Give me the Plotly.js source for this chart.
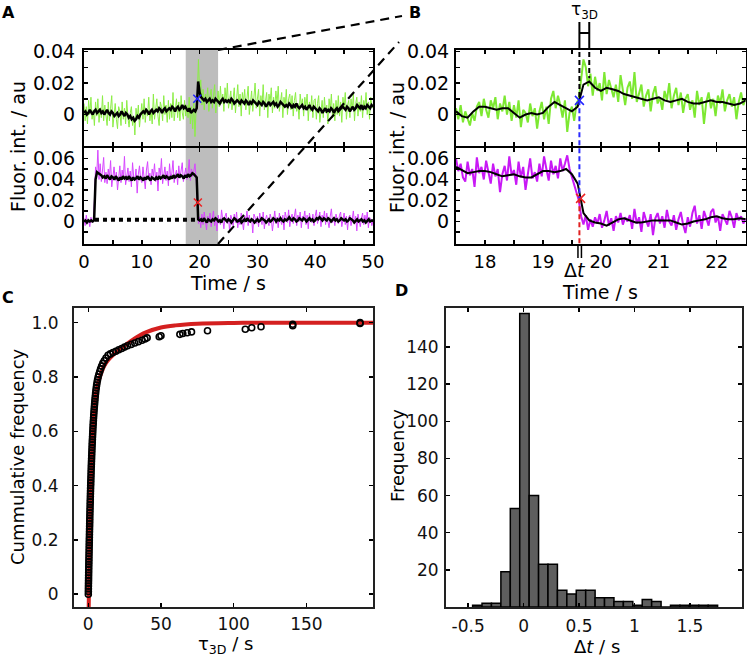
<!DOCTYPE html>
<html><head><meta charset="utf-8">
<script src="https://cdn.plot.ly/plotly-3.0.1.min.js"></script>
<style>html,body{margin:0;padding:0;background:#fff;}#plot{width:747px;height:657px;}</style>
</head><body><div id="plot"></div>
<script>
// ===== DATA (fluorescence values in units of 1e-3 au) =====
// Panel A: full trace 0-50 s
const aStart = 0, aRawStep = 0.2, aSmoothStep = 0.25;
const aGreenRaw = [
7,-4,5,-6,9,0,11,-3,3,-7, 8,-1,10,-5,4,-2,12,-4,6,1, -7,8,-4,4,12,-8,1,7,-3,-9,
5,2,-7,8,-3,4,-6,9,-2,-8, 1,5,-7,-1,-13,4,-3,6,-8,2, 7,-3,10,-5,4,-1,11,-4,3,-6,
13,-3,6,10,-1,-7,8,5,-4,12, 0,6,-5,9,-3,7,-2,14,-4,5, 10,-2,8,-4,12,1,-3,9,-1,6,
-2,11,-6,5,-9,8,-14,4,12,35, 14,22,6,16,3,13,9,17,2,12, 16,4,12,19,1,10,15,5,18,7,
13,2,17,8,20,4,11,15,3,12, 17,1,10,19,5,13,-1,14,8,16, 3,12,18,0,9,15,2,11,20,4,
10,16,-1,12,6,19,3,9,14,-2, 13,8,17,1,11,4,15,7,18,2, 9,14,-2,11,5,16,0,10,13,3,
12,-1,9,14,2,7,-3,13,6,10, -1,11,5,13,-4,8,2,12,-2,9, 10,-3,7,12,-5,4,9,-2,11,1,
6,-6,10,3,13,-2,7,-4,9,0, 12,-1,8,-5,11,4,14,-3,6,9, -2,10,3,13,-4,7,11,-1,8,2,
12,-2,9,5,14,0,8,-3,11,6, 4];
const aGreenSmooth = [
1,2,0,1,3,1,0,2,3,1, 2,3,1,2,0,2,3,1,0,2, 1,-1,0,1,-1,0,2,0,-1,1, 0,-2,-1,-3,-2,-4,-3,-1,-2,0,
1,2,1,3,2,0,2,3,1,2, 3,2,4,3,1,3,4,2,3,4, 3,5,4,2,4,5,3,4,6,4, 5,3,2,4,1,2,3,2,4,21,
14,11,10,9,10,8,9,10,8,9, 8,10,9,8,7,9,10,8,9,8, 9,8,10,9,7,8,9,8,7,9, 8,7,9,8,6,8,7,9,8,7,
6,8,7,6,8,7,5,7,8,6, 7,8,6,7,5,6,8,7,6,5, 6,5,7,6,4,6,5,7,5,4, 5,6,4,5,3,5,6,4,3,5,
4,3,2,4,3,1,3,4,2,3, 2,4,3,1,3,4,2,3,4,5, 4,3,5,4,2,4,5,3,4,6, 5,4,6,3,5,4,6,5,4,6, 5];
const aMagentaRaw = [
3,-4,6,-2,1,-5,4,-1,2,20, 52,44,68,40,55,38,49,61,37,47, 36,50,42,58,33,45,52,39,47,30,
44,53,37,49,41,62,35,46,51,38, 48,33,56,42,39,50,27,45,53,40, 37,52,44,31,49,57,40,46,35,50,
43,55,38,47,29,51,44,60,36,45, 52,39,48,34,55,42,46,58,37,44, 49,35,53,41,47,56,38,45,51,40,
46,59,39,50,43,48,55,41,18,-2, 4,-6,7,-3,9,1,-8,5,-1,8, -5,3,10,-4,2,-9,6,0,-3,11,
1,-7,5,8,-2,4,-10,6,2,-4, 7,-1,9,-6,3,-3,8,1,-8,5, 2,10,-4,6,-1,3,-11,7,4,-2,
5,-5,8,1,-3,9,-7,2,6,0, -4,7,3,-9,5,10,-2,4,-6,8, 1,-3,6,-8,9,2,-1,11,-5,3,
7,-2,4,12,-4,6,0,9,-6,5, 3,10,-3,6,-7,8,2,-1,7,-4, 5,11,-2,4,9,-5,6,1,10,-3,
8,0,-6,5,12,-1,4,-4,7,2, -2,6,9,-5,3,8,-3,5,-8,4, 6,-4,2,10,-2,5,-9,7,1,-5,
3,8,-3,6,-1,9,-6,4,2,-4, 1];
const aMagentaSmooth = [
0,1,-1,1,0,1,0,1,40,47, 46,45,44,42,43,41,44,42,40,43, 42,40,43,41,39,42,40,43,41,42, 40,43,41,39,42,40,41,43,40,42,
41,39,42,40,43,41,39,42,41,40, 42,40,43,41,42,44,41,43,42,40, 43,41,44,42,43,45,42,44,43,41, 44,42,45,43,44,46,45,43,42,2,
1,2,0,3,1,-1,2,1,0,2, 1,3,2,0,1,-1,2,3,1,0, 2,1,-1,1,3,2,0,1,2,-1, 1,2,0,3,1,0,2,1,-1,1,
2,0,1,3,2,1,-1,1,2,0, 1,3,2,0,2,1,3,1,0,2, 1,2,4,2,1,3,2,0,1,3, 2,1,3,2,0,2,3,1,2,0,
1,3,2,4,2,1,3,2,1,3, 2,0,2,3,1,2,0,1,3,2, 1,2,0,1,3,2,1,-1,1,2, 0,1,2,0,1,-1,1,2,0,1, 1];
const aBaselineT = [1.9, 19.3];
const aBaselineY = [1.5, 1.5];
const aGreenEventT = [19.6], aGreenEventY = [10];
const aMagentaEventT = [19.7], aMagentaEventY = [18];
const aZoomWindow = [17.6, 23.2];

// Panel B: zoom 17.5-22.5 s
const bStart = 17.5, bRawStep = 0.04, bSmoothStep = 0.1;
const bGreenRaw = [
4,-3,6,-5,2,-2,-7,1,-4,5,8,-1,10,3,-2,9,4,11,-3,7,2,12,0,8,-4,
6,-2,9,-8,3,1,-5,7,-1,4,-9,2,8,-3,5,-6,10,15,4,12,6,-2,9,-11,1,
5,-4,7,10,22,35,30,18,26,12,24,15,20,9,27,13,22,17,11,19,8,25,14,6,17,
21,10,27,8,14,19,5,12,16,2,13,18,7,11,3,15,9,20,4,12,17,6,14,1,10,
13,3,9,-2,15,6,11,-6,8,14,4,10,-1,12,7,16,2,9,13,5,11,-3,8,14,6,
10];
const bGreenSmooth = [
2,-1,-2,2,5,5,4,3,4,4, 1,-2,0,1,0,1,5,8,6,4, 2,5,19,21,17,15,17,16,15,13,
12,11,10,9,10,11,9,8,9,10, 8,7,7,8,9,8,8,7,6,7, 9];
const bMagentaRaw = [
60,48,55,42,38,57,44,50,33,61,46,52,40,58,47,36,55,43,50,28,45,53,39,62,44,
49,35,57,42,52,30,46,60,41,47,38,55,43,62,50,39,58,45,53,41,60,48,55,63,50,
42,35,27,20,5,-3,6,-8,2,-5,4,-2,7,-6,1,10,-4,3,-9,5,-1,8,-3,4,0,
6,-7,12,-2,4,-10,9,1,-5,7,-13,3,8,-2,5,-6,11,0,-4,6,-8,2,9,-3,-11,
4,-5,8,15,-2,6,-7,10,3,-4,9,12,-1,5,-9,7,2,-3,10,4,-6,8,1,5,-2,
3];
const bMagentaSmooth = [
52,49,46,47,48,48,47,45,43,44, 45,43,42,42,45,48,48,47,48,50, 45,36,8,1,-1,-2,-4,-1,2,3,
1,-1,-1,0,1,1,1,1,-1,-3, -2,0,1,2,4,5,3,2,2,3, 2];
const bGreenEventT = [19.63], bGreenEventY = [9];
const bMagentaEventT = [19.65], bMagentaEventY = [22];
const tau3DStart = 19.63, tau3DEnd = 19.8, tau3DPeak = 23;
const dtMarks = [19.605, 19.665];

// Panel C: cumulative distribution of tau_3D (s)
const cTau = [
0.05,0.08,0.1,0.13,0.16,0.2,0.23,0.26,0.3,0.33,
0.36,0.4,0.43,0.47,0.5,0.54,0.58,0.62,0.66,0.7,
0.74,0.78,0.82,0.86,0.9,0.94,0.98,1.02,1.06,1.1,
1.15,1.2,1.25,1.3,1.35,1.4,1.45,1.5,1.55,1.6,
1.66,1.72,1.78,1.84,1.9,1.96,2.02,2.09,2.16,2.23,
2.3,2.37,2.44,2.52,2.6,2.68,2.76,2.85,2.94,3.03,
3.12,3.22,3.32,3.43,3.54,3.66,3.78,3.91,4.05,4.2,
4.35,4.5,4.67,4.85,5.05,5.25,5.5,5.75,6.05,6.4,
6.8,7.3,7.9,8.5,9.2,10,11,12.2,13.6,15.2,17,19,21,23,25,27,29.5,32,34.5,37,39,40.5,
48.8,50,63,65,68,71,82,108,112.4,118.8,140.6,140.6,186.9,186.9];
const cFreq = [
0,0.01,0.02,0.03,0.04,0.05,0.06,0.07,0.08,0.09,
0.10,0.11,0.12,0.13,0.14,0.15,0.16,0.17,0.18,0.19,
0.20,0.21,0.22,0.23,0.24,0.25,0.26,0.27,0.28,0.29,
0.30,0.31,0.32,0.33,0.34,0.35,0.36,0.37,0.38,0.39,
0.40,0.41,0.42,0.43,0.44,0.45,0.46,0.47,0.48,0.49,
0.50,0.51,0.52,0.53,0.54,0.55,0.56,0.57,0.58,0.59,
0.60,0.61,0.62,0.63,0.64,0.65,0.66,0.67,0.68,0.69,
0.70,0.71,0.72,0.73,0.74,0.75,0.76,0.77,0.78,0.79,
0.80,0.81,0.82,0.83,0.84,0.85,0.86,0.87,0.88,0.885,0.89,0.895,0.90,0.905,0.91,0.915,0.92,0.925,0.93,0.935,0.94,0.944,
0.948,0.952,0.957,0.960,0.963,0.966,0.970,0.976,0.981,0.985,0.989,0.994,0.997,1.0];
const cFitTau = [0.3,0.6,1,1.5,2,3,4,5,6,8,10,12,15,20,25,30,35,40,50,60,75,100,130,196];
const cFitFreq = [-0.05,0.05,0.2,0.33,0.43,0.57,0.66,0.72,0.76,0.8,0.83,0.85,0.87,0.895,0.915,0.935,0.952,0.965,0.982,0.99,0.996,0.999,1.0,1.0];

// Panel D: histogram of delta t (s)
const dBinStart = -0.4175, dBinWidth = 0.085;
const dCounts = [1,2,2,19,53,158,60,23,23,9,7,9,9,5,5,3,3,1,4,3,0,1,1,1,1,1];

// Tick definitions
const aTimeTicks = [0,5,10,15,20,25,30,35,40,45,50];
const aTimeLabels = ['0','','10','','20','','30','','40','','50'];
const bTimeTicks = [18,18.5,19,19.5,20,20.5,21,21.5,22];
const bTimeLabels = ['18','','19','','20','','21','','22'];
const greenTicks = [-10,0,10,20,30,40];
const greenLabels = ['','0','','0.02','','0.04'];
const magTicks = [-10,0,10,20,30,40,50,60];
const magLabels = ['','0','','0.02','','0.04','','0.06'];
const cTauTicks = [0,50,100,150];
const cFreqTicks = [0,0.2,0.4,0.6,0.8,1.0];
const cFreqLabels = ['0','0.2','0.4','0.6','0.8','1.0'];
const dDtTicks = [-0.5,0,0.5,1,1.5];
const dDtLabels = ['-0.5','0','0.5','1','1.5'];
const dFreqTicks = [20,40,60,80,100,120,140];

// ===== LAYOUT =====
const W = 747, H = 657;
const px = v => v / W, py = v => 1 - v / H;
const domAx = [px(84), px(373)], domBx = [px(456), px(745.7)];
const domTop = [py(146), py(50)], domBot = [py(244), py(148)];
const domCx = [px(74), px(373)], domDx = [px(446), px(742)], domCD = [py(607), py(308)];
const greenRange = [-20, 41], magRange = [-21.5, 70];
const yPaper = (dom, rng, v) => dom[0] + (v - rng[0]) / (rng[1] - rng[0]) * (dom[1] - dom[0]);

const FONT = 'DejaVu Sans';
const GREEN_A = 'rgb(140,238,70)', GREEN_B = 'rgb(125,232,50)';
const MAG_A = 'rgb(215,70,255)', MAG_B = 'rgb(200,25,245)';
const TICK_AB = 18, TICK_CD = 17;

function axis(o) {
  return Object.assign({
    showline: true, mirror: 'ticks', linecolor: '#000', linewidth: 2,
    ticks: 'inside', ticklen: 4, tickwidth: 1.5, tickcolor: '#000',
    showgrid: false, zeroline: false, fixedrange: true,
    tickfont: {family: FONT, size: TICK_AB, color: '#000'}
  }, o);
}
const yTickAB = {family: FONT, size: 19, color: '#000'};
const cdFont = {family: FONT, size: TICK_CD, color: '#111'};

const traces = [
  // A top
  {x0: aStart, dx: aRawStep, y: aGreenRaw, xaxis: 'x2', yaxis: 'y2', type: 'scatter', mode: 'lines', line: {color: GREEN_A, width: 1}},
  {x0: aStart, dx: aSmoothStep, y: aGreenSmooth, xaxis: 'x2', yaxis: 'y2', type: 'scatter', mode: 'lines', line: {color: '#000', width: 2.5}},
  {x: aGreenEventT, y: aGreenEventY, xaxis: 'x2', yaxis: 'y2', type: 'scatter', mode: 'markers', marker: {symbol: 'x-thin-open', size: 8, color: '#2222ff', line: {width: 1.5, color: '#2222ff'}}},
  // A bottom
  {x0: aStart, dx: aRawStep, y: aMagentaRaw, xaxis: 'x', yaxis: 'y', type: 'scatter', mode: 'lines', line: {color: MAG_A, width: 1}},
  {x0: aStart, dx: aSmoothStep, y: aMagentaSmooth, xaxis: 'x', yaxis: 'y', type: 'scatter', mode: 'lines', line: {color: '#000', width: 2.5}},
  {x: aBaselineT, y: aBaselineY, xaxis: 'x', yaxis: 'y', type: 'scatter', mode: 'lines', line: {color: '#000', width: 4, dash: 'dot'}},
  {x: aMagentaEventT, y: aMagentaEventY, xaxis: 'x', yaxis: 'y', type: 'scatter', mode: 'markers', marker: {symbol: 'x-thin-open', size: 8, color: '#ee2222', line: {width: 1.5, color: '#ee2222'}}},
  // B top
  {x0: bStart, dx: bRawStep, y: bGreenRaw, xaxis: 'x4', yaxis: 'y4', type: 'scatter', mode: 'lines', line: {color: GREEN_B, width: 2}},
  {x0: bStart, dx: bSmoothStep, y: bGreenSmooth, xaxis: 'x4', yaxis: 'y4', type: 'scatter', mode: 'lines', line: {color: '#000', width: 2}},
  // B bottom
  {x0: bStart, dx: bRawStep, y: bMagentaRaw, xaxis: 'x3', yaxis: 'y3', type: 'scatter', mode: 'lines', line: {color: MAG_B, width: 2}},
  {x0: bStart, dx: bSmoothStep, y: bMagentaSmooth, xaxis: 'x3', yaxis: 'y3', type: 'scatter', mode: 'lines', line: {color: '#000', width: 2}},
  // C
  {x: cFitTau, y: cFitFreq, xaxis: 'x5', yaxis: 'y5', type: 'scatter', mode: 'lines', line: {color: '#d42020', width: 4, shape: 'spline'}},
  {x: cTau, y: cFreq, xaxis: 'x5', yaxis: 'y5', type: 'scatter', mode: 'markers', marker: {symbol: 'circle-open', size: 6, color: '#000', line: {width: 1.6}}},
  // D
  {x0: dBinStart, dx: dBinWidth, y: dCounts, xaxis: 'x6', yaxis: 'y6', type: 'bar', width: dBinWidth, marker: {color: '#5e5e5e', line: {color: '#000', width: 1.5}}},
  // event markers B (drawn last)
  {x: bGreenEventT, y: bGreenEventY, xaxis: 'x4', yaxis: 'y4', type: 'scatter', mode: 'markers', marker: {symbol: 'x-thin-open', size: 9, color: '#2222ff', line: {width: 1.5, color: '#2222ff'}}},
  {x: bMagentaEventT, y: bMagentaEventY, xaxis: 'x3', yaxis: 'y3', type: 'scatter', mode: 'markers', marker: {symbol: 'x-thin-open', size: 9, color: '#ee2222', line: {width: 1.5, color: '#ee2222'}}}
];

const gEv = yPaper(domTop, greenRange, bGreenEventY[0]);
const mEv = yPaper(domBot, magRange, bMagentaEventY[0]);
const gPk = yPaper(domTop, greenRange, tau3DPeak);
const zoomDash = {color: '#000', width: 2.2, dash: '9px,6px'};
const shapes = [
  {type: 'rect', xref: 'x2', yref: 'y2 domain', x0: aZoomWindow[0], x1: aZoomWindow[1], y0: 0, y1: 1, fillcolor: '#bdbdbd', line: {width: 0}, layer: 'below'},
  {type: 'rect', xref: 'x', yref: 'y domain', x0: aZoomWindow[0], x1: aZoomWindow[1], y0: 0, y1: 1, fillcolor: '#bdbdbd', line: {width: 0}, layer: 'below'},
  {type: 'line', xref: 'paper', yref: 'paper', x0: px(218), y0: py(50), x1: px(402), y1: py(16), line: zoomDash},
  {type: 'line', xref: 'paper', yref: 'paper', x0: px(218), y0: py(244), x1: px(399), y1: py(42), line: zoomDash},
  // tau_3D bracket "H"
  {type: 'line', xref: 'x4', yref: 'paper', x0: tau3DStart, x1: tau3DStart, y0: py(22), y1: py(44), line: {color: '#000', width: 2}},
  {type: 'line', xref: 'x4', yref: 'paper', x0: tau3DEnd, x1: tau3DEnd, y0: py(22), y1: py(44), line: {color: '#000', width: 2}},
  {type: 'line', xref: 'x4', yref: 'paper', x0: tau3DStart, x1: tau3DEnd, y0: py(33), y1: py(33), line: {color: '#000', width: 2}},
  {type: 'line', xref: 'x4', yref: 'paper', x0: tau3DStart, x1: tau3DStart, y0: py(44), y1: gEv, line: {color: '#000', width: 2, dash: '5px,3px'}},
  {type: 'line', xref: 'x4', yref: 'paper', x0: tau3DEnd, x1: tau3DEnd, y0: py(44), y1: gPk, line: {color: '#000', width: 2, dash: '5px,3px'}},
  {type: 'line', xref: 'x4', yref: 'paper', x0: tau3DStart, x1: tau3DStart, y0: gEv, y1: mEv, line: {color: '#2a2aff', width: 2, dash: '5px,3px'}},
  {type: 'line', xref: 'x3', yref: 'paper', x0: tau3DStart, x1: tau3DStart, y0: mEv, y1: domBot[0], line: {color: '#e02020', width: 2, dash: '5px,3px'}},
  // delta t marks under the axis
  {type: 'line', xref: 'x3', yref: 'paper', x0: dtMarks[0], x1: dtMarks[0], y0: py(245), y1: py(258), line: {color: '#000', width: 1.5}},
  {type: 'line', xref: 'x3', yref: 'paper', x0: dtMarks[1], x1: dtMarks[1], y0: py(245), y1: py(258), line: {color: '#000', width: 1.5}}
];

function ann(text, x, y, size, extra) {
  return Object.assign({text: text, x: px(x), y: py(y), xref: 'paper', yref: 'paper', showarrow: false,
    xanchor: 'center', yanchor: 'middle', font: {family: FONT, size: size, color: '#000'}}, extra || {});
}
const annotations = [
  ann('<b>A</b>', 8, 12, 16), ann('<b>B</b>', 415, 12, 16), ann('<b>C</b>', 8, 297, 16), ann('<b>D</b>', 401, 290, 16),
  ann('Fluor. int. / au', 18, 147, 19, {textangle: -90}),
  ann('Fluor. int. / au', 397, 147, 19, {textangle: -90}),
  ann('Time / s', 228, 283, 19),
  ann('Time / s', 600, 292, 19),
  ann('Δ<i>t</i>', 575, 270, 19),
  ann('τ<sub>3D</sub>', 584, 11, 17),
  ann('Cummulative frequency', 17, 457, 18, {textangle: -90}),
  ann('τ<sub>3D</sub> / s', 225, 645, 18),
  ann('Frequency', 397, 455, 18, {textangle: -90}),
  ann('Δ<i>t</i> / s', 597, 646, 18)
];

const layout = {
  width: W, height: H, margin: {l: 0, r: 0, t: 0, b: 0},
  paper_bgcolor: '#fff', plot_bgcolor: 'rgba(0,0,0,0)', showlegend: false,
  font: {family: FONT},
  xaxis: axis({domain: domAx, anchor: 'y', range: [0, 50], tickvals: aTimeTicks, ticktext: aTimeLabels, ticklabelstandoff: 0}),
  yaxis: axis({domain: domBot, anchor: 'x', range: magRange, tickvals: magTicks, ticktext: magLabels, ticklabelstandoff: 3, tickfont: yTickAB}),
  xaxis2: axis({domain: domAx, anchor: 'y2', range: [0, 50], tickvals: aTimeTicks, showticklabels: false}),
  yaxis2: axis({domain: domTop, anchor: 'x2', range: greenRange, tickvals: greenTicks, ticktext: greenLabels, ticklabelstandoff: 3, tickfont: yTickAB}),
  xaxis3: axis({domain: domBx, anchor: 'y3', range: [17.5, 22.5], tickvals: bTimeTicks, ticktext: bTimeLabels, ticklabelstandoff: 0}),
  yaxis3: axis({domain: domBot, anchor: 'x3', range: magRange, tickvals: magTicks, ticktext: magLabels, ticklabelstandoff: 1, tickfont: yTickAB}),
  xaxis4: axis({domain: domBx, anchor: 'y4', range: [17.5, 22.5], tickvals: bTimeTicks, showticklabels: false}),
  yaxis4: axis({domain: domTop, anchor: 'x4', range: greenRange, tickvals: greenTicks, ticktext: greenLabels, ticklabelstandoff: 1, tickfont: yTickAB}),
  xaxis5: axis({domain: domCx, anchor: 'y5', range: [-9.8, 195.8], tickvals: cTauTicks, linecolor: '#222', ticklabelstandoff: 1, tickfont: cdFont}),
  yaxis5: axis({domain: domCD, anchor: 'x5', range: [-0.047, 1.054], tickvals: cFreqTicks, ticktext: cFreqLabels, linecolor: '#222', ticklabelstandoff: 10, tickfont: cdFont}),
  xaxis6: axis({domain: domDx, anchor: 'y6', range: [-0.7, 1.97], tickvals: dDtTicks, ticktext: dDtLabels, linecolor: '#222', ticklabelstandoff: 3, tickfont: cdFont}),
  yaxis6: axis({domain: domCD, anchor: 'x6', range: [0, 161], tickvals: dFreqTicks, linecolor: '#222', ticklabelstandoff: 2, tickfont: cdFont}),
  bargap: 0,
  shapes: shapes,
  annotations: annotations
};

Plotly.newPlot('plot', traces, layout, {displayModeBar: false, staticPlot: true});
</script>
</body></html>
